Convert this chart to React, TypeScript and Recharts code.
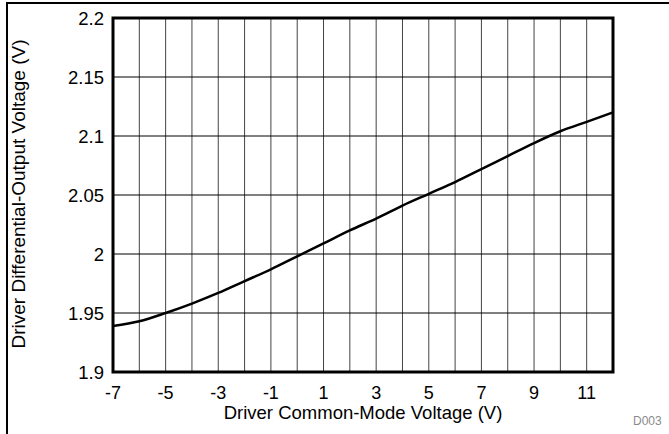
import React from "react";
import {
  LineChart,
  Line,
  XAxis,
  YAxis,
  CartesianGrid,
  ReferenceArea,
  Label,
} from "recharts";

// Common-mode voltage (V) and the matching differential output (V)
const vcm = [-7, -6, -5, -4, -3, -2, -1, 0, 1, 2, 3, 4, 5, 6, 7, 8, 9, 10, 11, 12];
const vod = [
  1.939, 1.943, 1.95, 1.958, 1.967, 1.977, 1.987, 1.998, 2.009, 2.02,
  2.03, 2.041, 2.051, 2.061, 2.072, 2.083, 2.094, 2.104, 2.112, 2.12,
];

const xTicks = [-7, -6, -5, -4, -3, -2, -1, 0, 1, 2, 3, 4, 5, 6, 7, 8, 9, 10, 11, 12];
const yTicks = [1.9, 1.95, 2, 2.05, 2.1, 2.15, 2.2];

const data = vcm.map((x, i) => ({ x, y: vod[i] }));

const FONT = "'Liberation Sans', Arial, sans-serif";

function YTitle(props: any) {
  const vb = props.viewBox;
  const x = 25;
  const y = vb.y + vb.height / 2 - 1;
  return (
    <text
      x={x}
      y={y}
      transform={`rotate(-90, ${x}, ${y})`}
      textAnchor="middle"
      fontFamily={FONT}
      fontSize={19}
      fill="#000"
    >
      Driver Differential-Output Voltage (V)
    </text>
  );
}

function XTitle(props: any) {
  const vb = props.viewBox;
  return (
    <text
      x={vb.x + vb.width / 2}
      y={419}
      textAnchor="middle"
      fontFamily={FONT}
      fontSize={18.5}
      fill="#000"
    >
      Driver Common-Mode Voltage (V)
    </text>
  );
}

export default function App() {
  return (
    <div
      style={{
        position: "absolute",
        left: 0,
        top: 0,
        width: 669,
        height: 434,
        background: "#fff",
        overflow: "hidden",
      }}
    >
      <div style={{ position: "absolute", left: 6, top: 2, width: 663, height: 2, background: "#000" }} />
      <div style={{ position: "absolute", left: 6, top: 2, width: 2, height: 432, background: "#000" }} />
      <LineChart
        width={669}
        height={434}
        data={data}
        margin={{ top: 18, right: 56, bottom: 0, left: 0 }}
      >
        <CartesianGrid horizontal={false} stroke="#444" strokeWidth={1} />
        <CartesianGrid vertical={false} stroke="#000" strokeWidth={1} />
        <XAxis
          dataKey="x"
          type="number"
          domain={[-7, 12]}
          ticks={xTicks}
          interval={0}
          height={62}
          tickLine={false}
          tickSize={0}
          tickMargin={14}
          axisLine={false}
          tickFormatter={(v: number) => (Math.abs(v) % 2 === 1 ? String(v) : "")}
          tick={{ fill: "#000", fontSize: 18, fontFamily: FONT }}
        >
          <Label content={<XTitle />} />
        </XAxis>
        <YAxis
          type="number"
          domain={[1.9, 2.2]}
          ticks={yTicks}
          interval={0}
          width={113}
          tickLine={false}
          tickSize={0}
          tickMargin={9}
          axisLine={false}
          tick={{ fill: "#000", fontSize: 18.5, fontFamily: FONT }}
        >
          <Label content={<YTitle />} />
        </YAxis>
        <ReferenceArea
          x1={-7}
          x2={12}
          y1={1.9}
          y2={2.2}
          fill="none"
          fillOpacity={0}
          stroke="#000"
          strokeWidth={3}
          ifOverflow="visible"
        />
        <Line
          dataKey="y"
          type="monotone"
          stroke="#000"
          strokeWidth={2.5}
          dot={false}
          isAnimationActive={false}
        />
      </LineChart>
      <div
        style={{
          position: "absolute",
          left: 633,
          top: 414,
          fontFamily: FONT,
          fontSize: 12,
          color: "#8a8a8a",
        }}
      >
        D003
      </div>
    </div>
  );
}
